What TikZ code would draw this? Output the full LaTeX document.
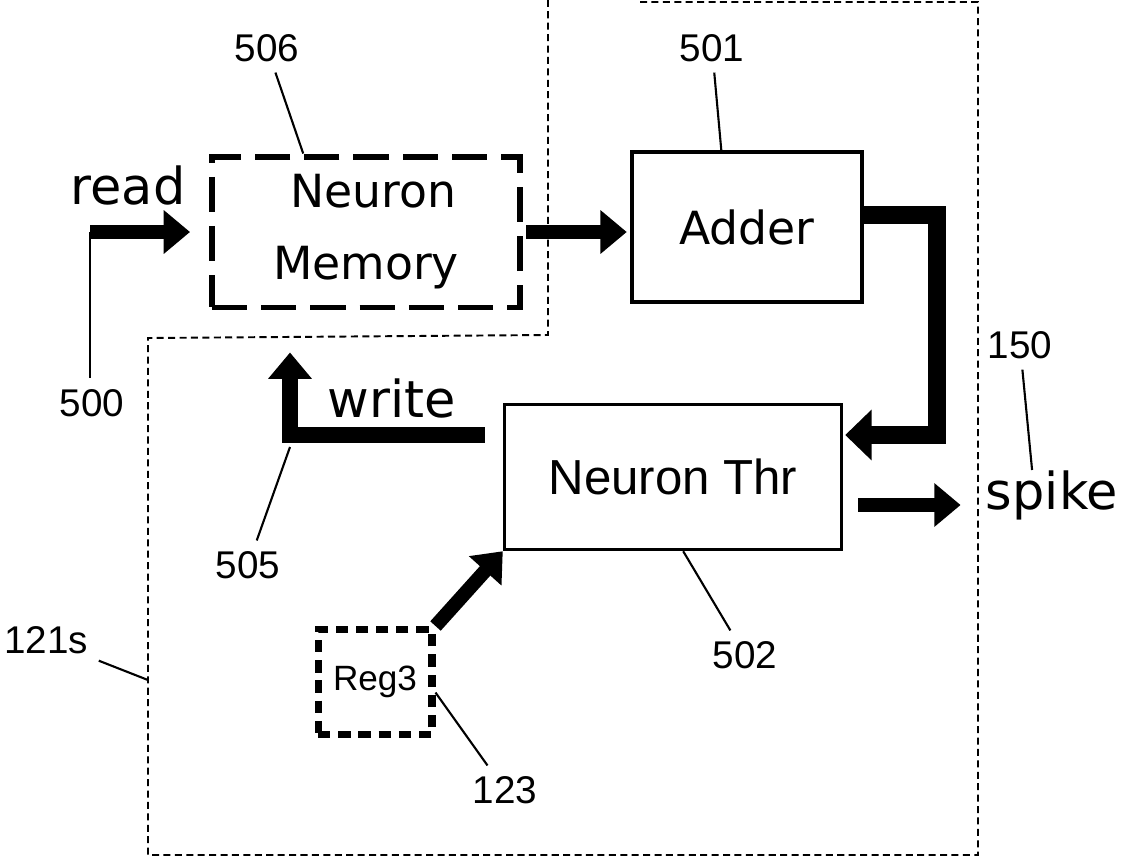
\documentclass[tikz,border=0pt]{standalone}
\usepackage{fontspec}
\setmainfont{DejaVu Sans}
\newfontfamily\thrfont{Liberation Sans}
\usetikzlibrary{positioning,arrows.meta,calc}

\begin{document}
\begin{tikzpicture}[
    x=0.02cm, y=-0.02cm,
    blocktext/.style={font={\fontsize{26}{41}\selectfont},align=center},
    flowtext/.style={font={\fontsize{29}{34}\selectfont},inner sep=0pt},
    refnum/.style={font={\thrfont\fontsize{22}{26}\selectfont},inner sep=6pt},
    leader/.style={line width=1.2pt},
    region/.style={line width=1.1pt,dash pattern=on 4pt off 2.5pt},
    memblock/.style={blocktext,draw,line width=3.4pt,dash pattern=on 20pt off 8pt,minimum width=6.16cm,minimum height=3.02cm},
    solidblock/.style={draw,line width=2pt},
    regblock/.style={draw,line width=4pt,dash pattern=on 7pt off 4.5pt,minimum width=2.28cm,minimum height=2.1cm,font={\thrfont\fontsize{20}{24}\selectfont}},
    fatarrow/.style={line width=8pt,-{Triangle[length=15pt,width=24pt]}},
    widearrow/.style={line width=10pt,-{Triangle[length=15pt,width=28pt]}},
]
    \useasboundingbox (0,0) rectangle (1122,860);

    \draw[region] (640,2) -- (978,2) -- (978,855) -- (148,855) -- (148,338) -- (548,335) -- (548,0);
    \coordinate (rleft) at (148,680);

    \node[memblock] (mem) at (366,232) {\hspace*{0.3cm}Neuron\\Memory};
    \node[solidblock,blocktext,minimum width=4.6cm,minimum height=3cm] (adder) at (747,227) {Adder};
    \node[solidblock,minimum width=6.74cm,minimum height=2.9cm,font={\thrfont\fontsize{28}{34}\selectfont}] (thr) at (673,477) {Neuron Thr};
    \node[regblock] (reg) at (375,682) {Reg3};

    \node[flowtext] (read) at (128,185) {read};
    \node[flowtext] (write) at (392,398) {write};
    \node[flowtext] (spike) at (1052,495) {spike};

    \node[refnum] (l506) at (267,48) {506};
    \node[refnum] (l501) at (712,48) {501};
    \node[refnum] (l500) at (92,403) {500};
    \node[refnum] (l150) at (1020,345) {150};
    \node[refnum] (l505) at (248,565) {505};
    \node[refnum] (l502) at (745,655) {502};
    \node[refnum] (l123) at (505,790) {123};
    \node[refnum] (l121) at (46,640) {121s};

    \coordinate (readin) at (90,232);
    \draw[fatarrow,shorten >=0.38cm] (readin) -- (readin -| mem.west);
    \draw[fatarrow,shorten <=2pt,shorten >=2pt] (mem.east) -- (mem.east -| adder.west);
    \draw[widearrow] ([shift={(0,-12)}]adder.east) -- ++(73,0) |- ([shift={(2,-42)}]thr.east);
    \coordinate (sp0) at ([shift={(15,28)}]thr.east);
    \draw[fatarrow,shorten >=0.5cm] (sp0) -- (sp0 -| spike.west);
    \coordinate (ws) at ([shift={(-18,-42)}]thr.west);
    \coordinate (wt) at ([shift={(-76,42)}]mem.south);
    \draw[fatarrow,line width=9pt] (ws) -| (wt);
    \draw[fatarrow] (reg.north east) -- (thr.south west);

    \draw[leader] (l506) -- ($(mem.north west)!0.30!(mem.north east)$);
    \draw[leader] (l501) -- ($(adder.north west)!0.39!(adder.north east)$);
    \draw[leader] (readin) -- (readin |- l500.north);
    \draw[leader] (l150) -- ($(spike.north west)!0.35!(spike.north east)$);
    \draw[leader] (l505) -- ($(wt |- ws)+(0,12)$);
    \draw[leader] (l502) -- ($(thr.south west)!0.53!(thr.south east)$);
    \draw[leader] (l123) -- ([yshift=-6pt]reg.east);
    \draw[leader] (l121) -- (rleft);

\end{tikzpicture}
\end{document}
